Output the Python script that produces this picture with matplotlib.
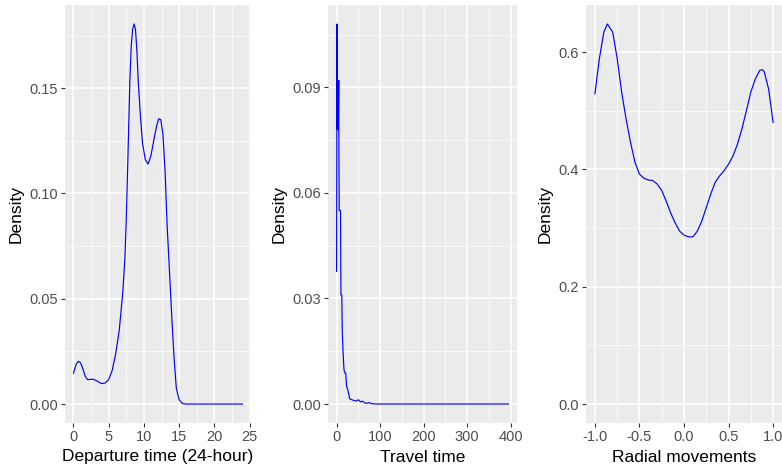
import matplotlib
matplotlib.use("Agg")
import matplotlib.pyplot as plt
from matplotlib.ticker import FixedLocator

plt.rcParams['font.family'] = ['Liberation Sans', 'DejaVu Sans']
plt.rcParams['axes.unicode_minus'] = False

# departure time density (24-hour)
dep_t = [0, 0.4, 0.7, 1.0, 1.2, 1.5, 1.7, 2, 2.8, 3.2, 4, 4.5, 5, 5.5, 6, 6.5, 7, 7.3, 7.5,
         7.8, 8.0, 8.2, 8.4, 8.6, 8.8, 9.0, 9.2, 9.5, 9.8, 10.2, 10.6, 11, 11.5, 11.8, 12.1,
         12.4, 12.7, 13, 13.3, 13.6, 14, 14.3, 14.6, 15, 15.5, 16, 20, 24]
dep_d = [0.0147, 0.0190, 0.0203, 0.0196, 0.018, 0.015, 0.013, 0.0116, 0.0118, 0.0112, 0.0097,
         0.0100, 0.0116, 0.016, 0.024, 0.035, 0.053, 0.069, 0.088, 0.126, 0.153, 0.170, 0.178,
         0.1805, 0.178, 0.168, 0.153, 0.137, 0.124, 0.116, 0.114, 0.118, 0.127, 0.132, 0.1355,
         0.135, 0.128, 0.111, 0.0845, 0.065, 0.0385, 0.021, 0.0076, 0.002, 0.0002, 0.0, 0.0, 0.0]

# travel time density
trav_t = [0, 1, 1, 2, 4, 5, 5, 6, 9, 10, 12, 13, 15, 17, 19, 21, 23, 26, 30, 35, 40, 45,
          50, 55, 60, 65, 70, 75, 80, 90, 200, 300, 395]
trav_d = [0.0377, 0.108, 0.079, 0.078, 0.078, 0.092, 0.080, 0.055, 0.055, 0.031, 0.031,
          0.021, 0.0145, 0.0098, 0.0088, 0.0088, 0.005, 0.004, 0.0015, 0.0012, 0.001, 0.0008,
          0.0012, 0.0006, 0.0008, 0.0003, 0.0002, 0.0004, 0.0001, 0.0, 0.0, 0.0, 0.0]

# radial movements density
rad_r = [-1.0, -0.95, -0.9, -0.86, -0.8, -0.75, -0.7, -0.65, -0.6, -0.55, -0.5, -0.45, -0.4,
         -0.35, -0.3, -0.25, -0.2, -0.15, -0.1, -0.05, 0.0, 0.05, 0.1, 0.15, 0.2, 0.25, 0.3,
         0.35, 0.4, 0.45, 0.5, 0.55, 0.6, 0.65, 0.7, 0.75, 0.8, 0.85, 0.88, 0.9, 0.95, 1.0]
rad_d = [0.529, 0.589, 0.634, 0.648, 0.634, 0.589, 0.532, 0.486, 0.446, 0.412, 0.392, 0.385,
         0.382, 0.381, 0.375, 0.364, 0.346, 0.326, 0.309, 0.295, 0.288, 0.285, 0.285, 0.295,
         0.312, 0.335, 0.358, 0.378, 0.389, 0.398, 0.409, 0.423, 0.443, 0.469, 0.500, 0.532,
         0.554, 0.569, 0.570, 0.567, 0.537, 0.480]

W, H = 782, 475
fig = plt.figure(figsize=(W / 100, H / 100), dpi=100)


def panel(x0, x1, xs, ys, xlim, ylim, xmaj, xmin, ymaj, ymin, xlab, xfmt, yfmt):
    ax = fig.add_axes([x0 / W, 1 - 423 / H, (x1 - x0) / W, 418 / H])
    ax.set_facecolor('#EBEBEB')
    for s in ax.spines.values():
        s.set_visible(False)
    ax.plot(xs, ys, color='#0000FF', lw=0.85)
    ax.set_xlim(*xlim)
    ax.set_ylim(*ylim)
    ax.xaxis.set_major_locator(FixedLocator(xmaj))
    ax.xaxis.set_minor_locator(FixedLocator(xmin))
    ax.yaxis.set_major_locator(FixedLocator(ymaj))
    ax.yaxis.set_minor_locator(FixedLocator(ymin))
    ax.set_xticklabels([xfmt.format(v) for v in xmaj])
    ax.set_yticklabels([yfmt.format(v) for v in ymaj])
    ax.grid(which='major', color='white', lw=1.1)
    ax.grid(which='minor', color='white', lw=0.55)
    ax.set_axisbelow(True)
    ax.tick_params(which='major', length=3, width=0.8, color='#333333',
                   labelcolor='#4D4D4D', labelsize=10.5, pad=2)
    ax.tick_params(which='minor', length=0)
    ax.set_xlabel(xlab, fontsize=12.5, labelpad=4)
    ax.set_ylabel('Density', fontsize=12.5, labelpad=4)
    return ax


panel(65, 251, dep_t, dep_d, (-1.2, 25.2), (-0.009, 0.1895),
      [0, 5, 10, 15, 20, 25], [2.5, 7.5, 12.5, 17.5, 22.5],
      [0, 0.05, 0.10, 0.15], [0.025, 0.075, 0.125, 0.175],
      'Departure time (24-hour)', '{:g}', '{:.2f}')

panel(328, 517, trav_t, trav_d, (-19.75, 414.75), (-0.0054, 0.1134),
      [0, 100, 200, 300, 400], [50, 150, 250, 350],
      [0, 0.03, 0.06, 0.09], [0.015, 0.045, 0.075, 0.105],
      'Travel time', '{:g}', '{:.2f}')

panel(586, 782, rad_r, rad_d, (-1.1, 1.1), (-0.0324, 0.6804),
      [-1.0, -0.5, 0.0, 0.5, 1.0], [-0.75, -0.25, 0.25, 0.75],
      [0, 0.2, 0.4, 0.6], [0.1, 0.3, 0.5],
      'Radial movements', '{:.1f}', '{:.1f}')

fig.savefig('out.png', dpi=100)
